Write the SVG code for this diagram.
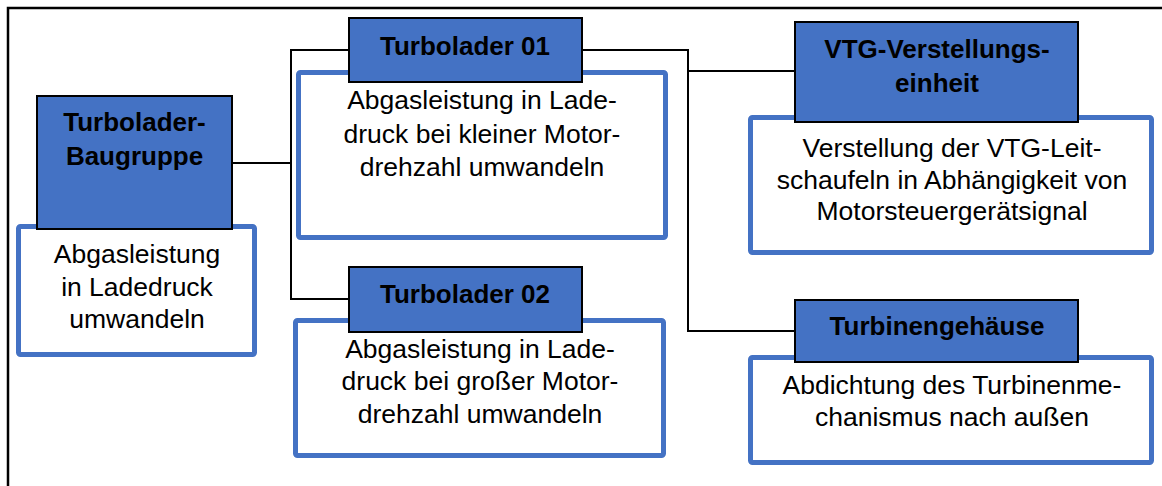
<svg xmlns="http://www.w3.org/2000/svg" width="1162" height="486" viewBox="0 0 1162 486">
<style>
.hd{fill:#4472C4;stroke:#000;stroke-width:2}
.bx{fill:#fff;stroke:#4472C4;stroke-width:5}
.ht{font-family:"Liberation Sans",Arial,sans-serif;font-weight:bold;font-size:26px;fill:#000;text-anchor:middle}
.bt{font-family:"Liberation Sans",Arial,sans-serif;font-size:26.5px;fill:#000;text-anchor:middle}
.cn{fill:none;stroke:#000;stroke-width:2}
</style>
<rect width="1162" height="486" fill="#fff"/>
<path d="M8,486 V8 H1162" fill="none" stroke="#000" stroke-width="2.5"/>
<g id="connectors">
<path class="cn" d="M232,163 H291"/>
<path class="cn" d="M349,50 H291 V299 H349"/>
<path class="cn" d="M582,50 H688 V331 H795"/>
<path class="cn" d="M688,71 H795"/>
</g>
<g id="baugruppe">
<rect class="bx" x="18.5" y="226.5" width="236" height="128" rx="2"/>
<rect class="hd" x="37" y="96" width="195" height="133"/>
<text class="ht" x="134.5" y="131">Turbolader-</text>
<text class="ht" x="134.5" y="165">Baugruppe</text>
<text class="bt" x="137" y="263">Abgasleistung</text>
<text class="bt" x="137" y="296">in Ladedruck</text>
<text class="bt" x="137" y="328">umwandeln</text>
</g>
<g id="turbolader01">
<rect class="bx" x="298.5" y="72.5" width="367" height="165" rx="2"/>
<rect class="hd" x="349" y="18" width="233" height="64"/>
<text class="ht" x="465" y="55">Turbolader 01</text>
<text class="bt" x="482" y="109">Abgasleistung in Lade-</text>
<text class="bt" x="482" y="143">druck bei kleiner Motor-</text>
<text class="bt" x="482" y="176">drehzahl umwandeln</text>
</g>
<g id="turbolader02">
<rect class="bx" x="295.5" y="320.5" width="368" height="135" rx="2"/>
<rect class="hd" x="349" y="267" width="233" height="65"/>
<text class="ht" x="465" y="303">Turbolader 02</text>
<text class="bt" x="480" y="358">Abgasleistung in Lade-</text>
<text class="bt" x="480" y="390">druck bei großer Motor-</text>
<text class="bt" x="480" y="423">drehzahl umwandeln</text>
</g>
<g id="vtg">
<rect class="bx" x="750.5" y="117.5" width="401" height="135" rx="2"/>
<rect class="hd" x="795" y="22" width="283" height="100"/>
<text class="ht" x="937" y="58">VTG-Verstellungs-</text>
<text class="ht" x="937" y="92">einheit</text>
<text class="bt" x="952" y="157">Verstellung der VTG-Leit-</text>
<text class="bt" x="952" y="189">schaufeln in Abhängigkeit von</text>
<text class="bt" x="952" y="220">Motorsteuergerätsignal</text>
</g>
<g id="turbinengehaeuse">
<rect class="bx" x="750.5" y="357.5" width="401" height="105" rx="2"/>
<rect class="hd" x="795" y="300" width="283" height="62"/>
<text class="ht" x="937" y="335">Turbinengehäuse</text>
<text class="bt" x="952" y="394">Abdichtung des Turbinenme-</text>
<text class="bt" x="952" y="426">chanismus nach außen</text>
</g>
</svg>
